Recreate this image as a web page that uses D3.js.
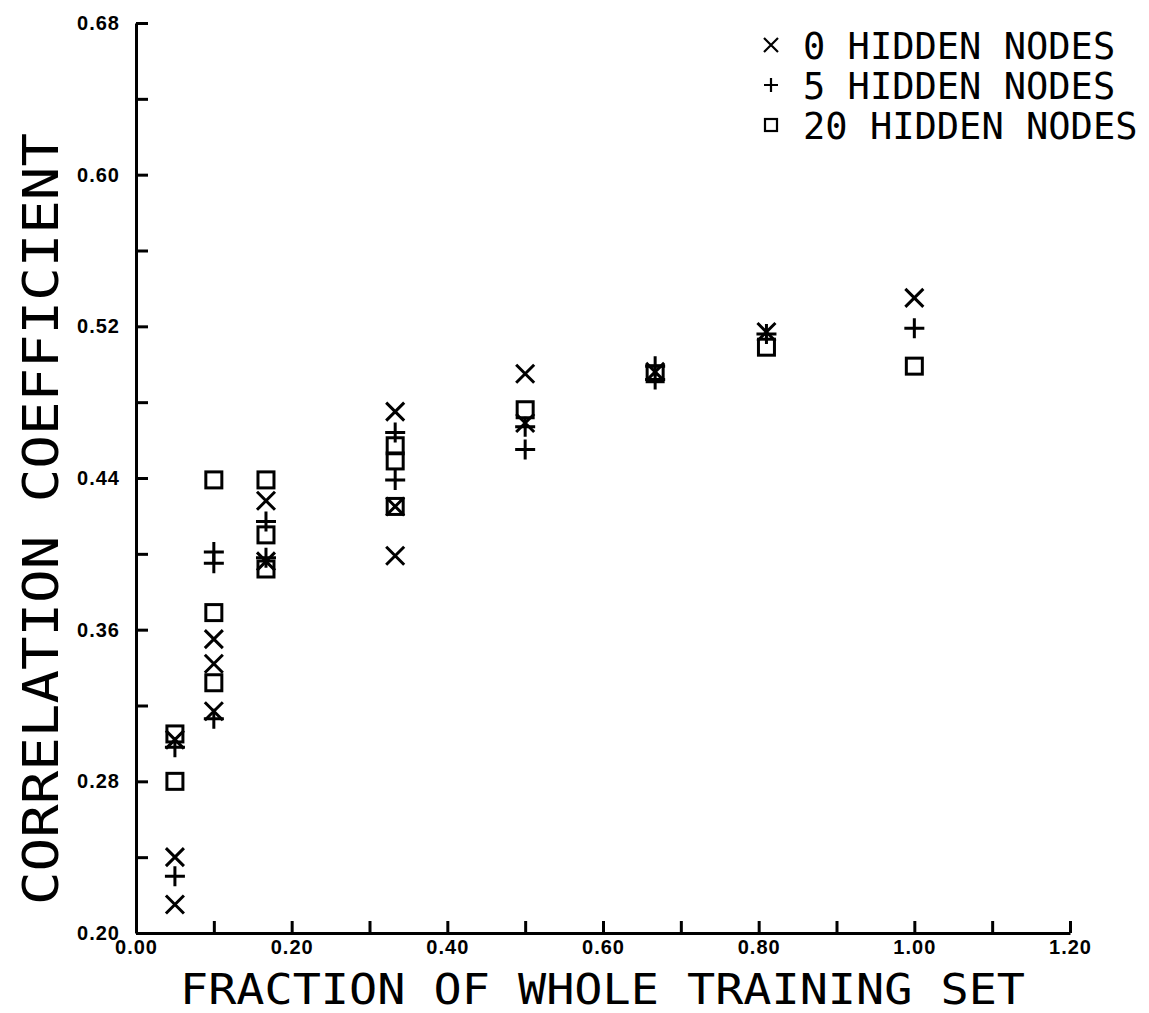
<!DOCTYPE html>
<html lang="en">
<head>
<meta charset="utf-8">
<title>Correlation coefficient vs fraction of training set</title>
<script src="https://d3js.org/d3.v7.min.js"></script>
<style>
  body { margin: 0; background: #fff; }
  .title { font-family: "DejaVu Sans Mono", monospace; fill: #000; }
</style>
</head>
<body>
<svg id="chart" width="1149" height="1013"></svg>
<script>
// data: [fraction, correlation]
var zeroHidden = [
  [0.05, 0.302], [0.05, 0.240], [0.05, 0.215],
  [0.10, 0.355], [0.10, 0.342], [0.10, 0.317],
  [0.167, 0.428], [0.167, 0.396],
  [0.333, 0.475], [0.333, 0.425], [0.333, 0.399],
  [0.50, 0.495], [0.50, 0.469],
  [0.667, 0.496],
  [0.81, 0.517],
  [1.00, 0.535]
];
var fiveHidden = [
  [0.05, 0.298], [0.05, 0.230],
  [0.10, 0.401], [0.10, 0.395], [0.10, 0.313],
  [0.167, 0.417], [0.167, 0.398],
  [0.333, 0.464], [0.333, 0.439],
  [0.50, 0.467], [0.50, 0.455],
  [0.667, 0.499], [0.667, 0.492],
  [0.81, 0.516],
  [1.00, 0.519]
];
var twentyHidden = [
  [0.05, 0.305], [0.05, 0.280],
  [0.10, 0.439], [0.10, 0.369], [0.10, 0.332],
  [0.167, 0.439], [0.167, 0.410], [0.167, 0.392],
  [0.333, 0.457], [0.333, 0.449], [0.333, 0.425],
  [0.50, 0.476],
  [0.667, 0.495],
  [0.81, 0.509],
  [1.00, 0.499]
];
var legendLabels = ["0 HIDDEN NODES", "5 HIDDEN NODES", "20 HIDDEN NODES"];
var xTicks = d3.range(0, 13).map(function(i) { return i / 10; });
var yTicks = d3.range(0, 13).map(function(i) { return 0.20 + i * 0.04; });

var svg = d3.select("#chart");

var xScale = d3.scaleLinear().domain([0, 1.2]).range([136, 1070]);
var yScale = d3.scaleLinear().domain([0.20, 0.68]).range([933, 23]);

var xAxis = d3.axisBottom(xScale)
  .tickValues(xTicks)
  .tickSizeInner(-12).tickSizeOuter(0).tickPadding(7)
  .tickFormat(function(d, i) { return i % 2 === 0 ? d3.format(".2f")(d) : ""; });

var yAxis = d3.axisLeft(yScale)
  .tickValues(yTicks)
  .tickSizeInner(-12).tickSizeOuter(0).tickPadding(16)
  .tickFormat(function(d, i) { return i % 2 === 0 ? d3.format(".2f")(d) : ""; });

svg.append("g").attr("transform", "translate(0,933)").call(xAxis);
svg.append("g").attr("transform", "translate(136,0)").call(yAxis);
svg.selectAll(".domain, .tick line").attr("stroke", "#000").attr("stroke-width", 3);
svg.selectAll(".tick text")
  .attr("fill", "#000")
  .style("font-family", "'Liberation Sans', Arial, sans-serif")
  .style("font-weight", "bold")
  .style("font-size", "20px")
  .style("letter-spacing", "1px");

// markers
function drawX(g, s) {
  g.append("path").attr("d", "M" + (-s) + "," + (-s) + "L" + s + "," + s + "M" + (-s) + "," + s + "L" + s + "," + (-s));
}
function drawPlus(g, s) {
  g.append("path").attr("d", "M" + (-s) + ",0L" + s + ",0M0," + (-s) + "L0," + s);
}
function drawSquare(g, s) {
  g.append("rect").attr("x", -s).attr("y", -s).attr("width", 2 * s).attr("height", 2 * s);
}

var series = [
  { data: zeroHidden, draw: drawX, size: 9 },
  { data: fiveHidden, draw: drawPlus, size: 10 },
  { data: twentyHidden, draw: drawSquare, size: 8 }
];

series.forEach(function(s) {
  svg.append("g")
    .selectAll("g")
    .data(s.data)
    .enter()
    .append("g")
    .attr("transform", function(d) { return "translate(" + xScale(d[0]) + "," + yScale(d[1]) + ")"; })
    .attr("fill", "none").attr("stroke", "#000").attr("stroke-width", 3)
    .each(function() { s.draw(d3.select(this), s.size); });
});

// legend
var legend = svg.append("g");
legendLabels.forEach(function(label, i) {
  var cy = 45 + i * 40;
  var m = legend.append("g")
    .attr("transform", "translate(771," + cy + ")")
    .attr("fill", "none").attr("stroke", "#000").attr("stroke-width", 2.2);
  series[i].draw(m, i === 2 ? 6 : 7);
  legend.append("text")
    .attr("class", "title")
    .attr("x", 803).attr("y", cy + 14)
    .attr("font-size", 37)
    .attr("textLength", label.length * 22.3)
    .attr("lengthAdjust", "spacingAndGlyphs")
    .text(label);
});

// axis titles
svg.append("text")
  .attr("class", "title")
  .attr("x", 180).attr("y", 1004)
  .attr("font-size", 42)
  .attr("textLength", 845)
  .attr("lengthAdjust", "spacingAndGlyphs")
  .text("FRACTION OF WHOLE TRAINING SET");

svg.append("text")
  .attr("class", "title")
  .attr("transform", "translate(58,905) rotate(-90)")
  .attr("font-size", 50)
  .attr("textLength", 772)
  .attr("lengthAdjust", "spacingAndGlyphs")
  .text("CORRELATION COEFFICIENT");
</script>
</body>
</html>
